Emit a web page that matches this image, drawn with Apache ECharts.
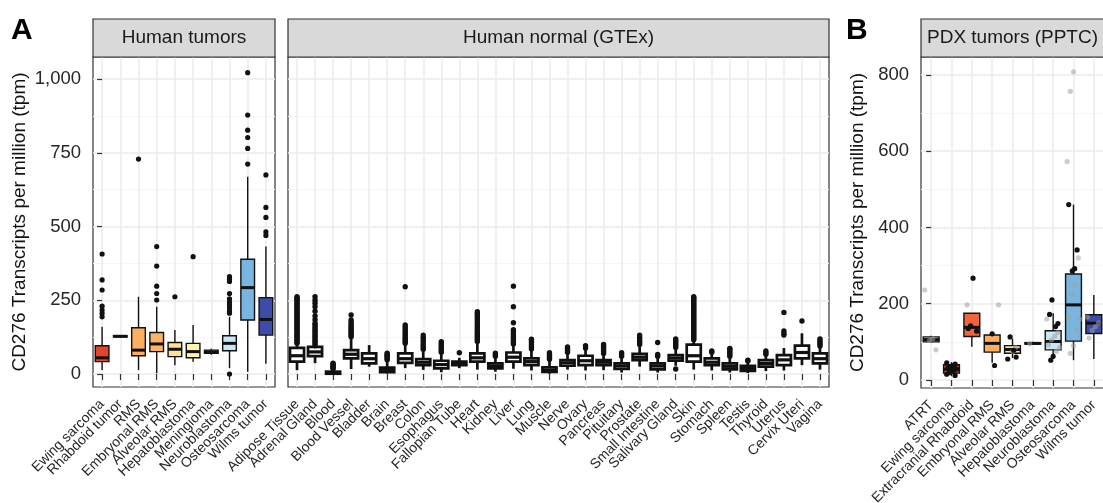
<!DOCTYPE html>
<html>
<head>
<meta charset="utf-8">
<script src="https://cdn.jsdelivr.net/npm/echarts@6/dist/echarts.min.js"></script>
<style>html,body{margin:0;padding:0;background:#fff;}#c{width:1103px;height:503px;}</style>
</head>
<body>
<div id="c"></div>
<script>
// ---------------- DATA ----------------
const yTitle = 'CD276 Transcripts per million (tpm)';
const stripLabels = ['Human tumors', 'Human normal (GTEx)', 'PDX tumors (PPTC)'];
const panelLetters = ['A', 'B'];

const yTicksA = [0, 250, 500, 750, 1000];
const yMinorA = [125, 375, 625, 875];
const yTicksB = [0, 200, 400, 600, 800];
const yMinorB = [100, 300, 500, 700];

const tumorCats = ['Ewing sarcoma', 'Rhabdoid tumor', 'RMS', 'Embryonal RMS', 'Alveolar RMS',
  'Hepatoblastoma', 'Meningioma', 'Neuroblastoma', 'Osteosarcoma', 'Wilms tumor'];
// [lower whisker, Q1, median, Q3, upper whisker]
const tumorStats = [
  [14, 42, 55, 96, 160],
  [124, 126, 128, 130, 132],
  [14, 62, 81, 157, 262],
  [3, 76, 102, 141, 228],
  [30, 59, 84, 107, 149],
  [42, 55, 76, 104, 166],
  [65, 70, 75, 81, 86],
  [20, 79, 104, 130, 194],
  [8, 183, 293, 389, 669],
  [35, 132, 185, 259, 432]
];
const tumorOutliers = [
  [407, 319, 285, 230, 217, 206, 194],
  [],
  [729],
  [432, 366, 298, 273, 251],
  [262],
  [398],
  [],
  [330, 322, 314, 273, 255, 245, 235, 225, 214, 206, 0],
  [1022, 878, 827, 802, 765, 712],
  [675, 565, 531, 482, 470]
];

const gtexCats = ['Adipose Tissue', 'Adrenal Gland', 'Blood', 'Blood Vessel', 'Bladder', 'Brain', 'Breast',
  'Colon', 'Esophagus', 'Fallopian Tube', 'Heart', 'Kidney', 'Liver', 'Lung', 'Muscle', 'Nerve', 'Ovary',
  'Pancreas', 'Pituitary', 'Prostate', 'Small Intestine', 'Salivary Gland', 'Skin', 'Stomach', 'Spleen',
  'Testis', 'Thyroid', 'Uterus', 'Cervix Uteri', 'Vagina'];
const gtexStats = [
  [13, 42, 62, 89, 100], [37, 61, 75, 92, 94], [0, 1, 3, 8, 15], [17, 53, 67, 81, 122],
  [25, 36, 52, 70, 98], [2, 6, 12, 22, 45], [20, 38, 52, 70, 100], [14, 30, 40, 51, 80],
  [6, 19, 32, 45, 70], [20, 30, 35, 42, 55], [15, 42, 55, 70, 105], [8, 19, 27, 36, 55],
  [18, 42, 57, 73, 98], [12, 30, 42, 53, 80], [1, 7, 14, 23, 45], [15, 28, 38, 47, 70],
  [12, 30, 45, 62, 82], [13, 30, 40, 47, 65], [5, 17, 27, 36, 55], [25, 47, 57, 68, 95],
  [5, 16, 27, 36, 55], [28, 45, 54, 64, 85], [15, 42, 62, 100, 112], [12, 30, 40, 53, 70],
  [5, 16, 26, 36, 55], [3, 11, 19, 28, 40], [10, 25, 36, 47, 62], [12, 30, 48, 64, 88],
  [30, 53, 73, 96, 138], [15, 36, 52, 70, 90]
];
const gtexOutliers = [
  [104, 109, 113, 118, 122, 127, 131, 136, 140, 145, 150, 154, 159, 163, 168, 172, 177, 181, 186, 190, 195, 199, 204, 208, 213, 217, 222, 227, 231, 236, 240, 245, 250, 254, 258, 262],
  [96, 102, 108, 114, 120, 126, 131, 137, 143, 148, 154, 160, 166, 172, 184, 197, 213, 228, 240, 250, 262],
  [18, 21, 24, 27, 30, 33, 37],
  [126, 131, 136, 141, 147, 152, 158, 164, 170, 176, 183, 200],
  [],
  [48, 52, 56, 60, 64, 68, 71],
  [104, 109, 114, 119, 124, 130, 136, 142, 148, 154, 160, 166, 296],
  [84, 90, 96, 103, 110, 117, 124, 132],
  [74, 80, 86, 92, 98, 104, 110],
  [72],
  [110, 115, 120, 125, 130, 135, 140, 146, 152, 158, 164, 170, 176, 182, 188, 194, 200, 206, 211],
  [60, 66, 71],
  [102, 108, 114, 120, 126, 132, 138, 144, 150, 174, 228, 298],
  [85, 92, 99, 106, 112, 118],
  [50, 56, 61, 66, 72],
  [74, 80, 86, 92],
  [88, 96],
  [70, 76, 82, 88, 94, 100],
  [60, 66, 72],
  [100, 106, 112, 118, 125, 132],
  [60, 66, 107],
  [17, 90, 96, 102, 108, 114, 119],
  [116, 120, 125, 129, 134, 138, 143, 147, 152, 156, 161, 165, 170, 174, 179, 183, 188, 192, 197, 201, 206, 210, 215, 219, 224, 228, 233, 237, 242, 246, 251, 255, 259, 262],
  [74, 78],
  [60, 66, 72, 78, 84, 87],
  [44, 47],
  [67, 72, 78],
  [132, 138, 146, 209],
  [180],
  [95, 101, 107, 113, 119]
];

const pdxCats = ['ATRT', 'Ewing sarcoma', 'Extracranial Rhabdoid', 'Embryonal RMS', 'Alveolar RMS',
  'Hepatoblastoma', 'Neuroblastoma', 'Osteosarcoma', 'Wilms tumor'];
const pdxStats = [
  [98, 100, 106, 113, 116],
  [10, 18, 28, 40, 47],
  [87, 114, 138, 175, 176],
  [45, 73, 96, 118, 122],
  [58, 70, 80, 90, 108],
  [92, 94, 96, 98, 100],
  [55, 79, 101, 129, 175],
  [52, 102, 197, 278, 460],
  [55, 122, 149, 171, 223]
];
const pdxDarkPoints = [
  [],
  [45, 42, 38, 35, 32, 29, 26, 22, 19, 15, 12],
  [267, 142, 135, 128],
  [38, 121],
  [113, 55, 60, 78],
  [],
  [210, 172, 148, 140, 62, 52],
  [460, 341, 292, 286],
  []
];
const pdxGreyPoints = [
  [236, 79, 108, 104],
  [],
  [197],
  [197],
  [85, 75],
  [95],
  [160, 125, 115, 105, 92, 85, 75],
  [808, 757, 573, 320, 250, 225, 165, 160, 130, 90, 70],
  [165, 150, 140, 130, 110]
];

// ---------------- STYLE ----------------
const FONT = "'Liberation Sans', Arial, Helvetica, sans-serif";
const tumorColors = ['#e4432d', '#f46d43', '#fdae61', '#fdb365', '#fee090', '#fff3b0', '#d9d9d9', '#c9e7f3', '#79b5df', '#3f4ba8'];
const gtexColors = gtexCats.map(() => '#ffffff');
const pdxColors = ['#d9d9d9', '#e4432d', '#f0643c', '#fdae61', '#fee090', '#f0f0f0', '#c9e7f3', '#79b5df', '#3f4ba8'];

const GRID_TOP = 57;
const panels = [
  { left: 93, width: 182, height: 330 },
  { left: 288, width: 541, height: 330 },
  { left: 921, width: 183, height: 331 }
];

function fmt(v) { return String(v).replace(/\B(?=(\d{3})+(?!\d))/g, ','); }
function idx(n) { return Array.from({ length: n }, (_, i) => i); }

function boxRenderer(colors, frac, lw, mlw) {
  return function (params, api) {
    const i = api.value(0);
    const pLo = api.coord([i, api.value(1)]);
    const pQ1 = api.coord([i, api.value(2)]);
    const pMd = api.coord([i, api.value(3)]);
    const pQ3 = api.coord([i, api.value(4)]);
    const pHi = api.coord([i, api.value(5)]);
    const band = api.size([1, 0])[0];
    const w = band * frac;
    const x = pMd[0];
    const st = { stroke: '#111', lineWidth: lw };
    return {
      type: 'group',
      children: [
        { type: 'line', shape: { x1: x, y1: pLo[1], x2: x, y2: pQ1[1] }, style: st },
        { type: 'line', shape: { x1: x, y1: pQ3[1], x2: x, y2: pHi[1] }, style: st },
        { type: 'rect', shape: { x: x - w / 2, y: pQ3[1], width: w, height: pQ1[1] - pQ3[1] },
          style: { fill: colors[params.dataIndex], stroke: '#111', lineWidth: lw } },
        { type: 'line', shape: { x1: x - w / 2, y1: pMd[1], x2: x + w / 2, y2: pMd[1] },
          style: { stroke: '#111', lineWidth: mlw } }
      ]
    };
  };
}
function pointRenderer(jit, r, fill) {
  return function (params, api) {
    const p = api.coord([api.value(0), api.value(1)]);
    const dx = jit ? (((params.dataIndex * 7) % 9) - 4) * jit : 0;
    return { type: 'circle', shape: { cx: p[0] + dx, cy: p[1], r: r }, style: { fill: fill } };
  };
}
function flatPoints(lists) {
  const out = [];
  lists.forEach((vals, i) => vals.forEach(v => out.push([i, v])));
  return out;
}

const cats = [tumorCats, gtexCats, pdxCats];
const xAxes = [];
cats.forEach((c, g) => {
  xAxes.push({
    type: 'category', gridIndex: g, data: c, boundaryGap: true, position: 'bottom',
    axisLine: { show: false },
    axisTick: { show: true, alignWithLabel: true, interval: 0, length: 6, lineStyle: { color: '#333', width: 1.2 } },
    axisLabel: { interval: 0, rotate: 45, fontSize: 14, color: '#262626', margin: 15, fontFamily: FONT },
    splitLine: { show: false }
  });
  xAxes.push({
    type: 'value', gridIndex: g, min: -0.5, max: c.length - 0.5, position: 'top',
    axisLine: { show: false },
    axisTick: { show: false, customValues: idx(c.length) },
    axisLabel: { show: false },
    splitLine: { show: true, lineStyle: { color: '#ebebeb', width: 1.5 } }
  });
});

function yMain(g, min, max, ticks, showLabels, nameGap) {
  const ax = {
    type: 'value', gridIndex: g, min: min, max: max, position: 'left',
    axisLine: { show: false },
    axisTick: { show: showLabels, length: 5, customValues: ticks, lineStyle: { color: '#333', width: 1.2 } },
    axisLabel: { show: showLabels, customValues: ticks, fontSize: 18.5, color: '#262626', margin: 12, formatter: fmt, fontFamily: FONT },
    splitLine: { show: true, lineStyle: { color: '#ebebeb', width: 1.5 } }
  };
  if (showLabels) {
    ax.name = yTitle;
    ax.nameLocation = 'middle';
    ax.nameRotate = 90;
    ax.nameGap = nameGap;
    ax.nameMoveOverlap = false;
    ax.nameTextStyle = { fontSize: 19, color: '#111', fontFamily: FONT };
  }
  return ax;
}
function yMinor(g, min, max, ticks) {
  return {
    type: 'value', gridIndex: g, min: min, max: max, position: 'right',
    axisLine: { show: false },
    axisTick: { show: false, customValues: ticks },
    axisLabel: { show: false },
    splitLine: { show: true, lineStyle: { color: '#f5f5f5', width: 1 } }
  };
}
const yAxes = [
  yMain(0, -44, 1075, yTicksA, true, 64), yMinor(0, -44, 1075, yMinorA),
  yMain(1, -44, 1075, yTicksA, false, 0), yMinor(1, -44, 1075, yMinorA),
  yMain(2, -21, 847, yTicksB, true, 54), yMinor(2, -21, 847, yMinorB)
];

const series = [];
function addBoxes(g, stats, colors, frac, lw, mlw) {
  series.push({
    type: 'custom', xAxisIndex: 2 * g, yAxisIndex: 2 * g, z: 3,
    renderItem: boxRenderer(colors, frac, lw, mlw),
    encode: { x: 0, y: [1, 2, 3, 4, 5] },
    data: stats.map((s, i) => [i].concat(s))
  });
}
function addPoints(g, lists, jit, r, fill, z) {
  series.push({
    type: 'custom', xAxisIndex: 2 * g, yAxisIndex: 2 * g, z: z,
    renderItem: pointRenderer(jit, r, fill),
    encode: { x: 0, y: 1 },
    data: flatPoints(lists)
  });
}
addBoxes(0, tumorStats, tumorColors, 0.75, 1.4, 3);
addPoints(0, tumorOutliers, 0, 2.6, '#111', 4);
addBoxes(1, gtexStats, gtexColors, 0.78, 2.7, 3.2);
addPoints(1, gtexOutliers, 0, 2.7, '#111', 4);
addBoxes(2, pdxStats, pdxColors, 0.78, 1.4, 3);
addPoints(2, pdxGreyPoints, 1.6, 2.6, 'rgba(160,160,160,0.55)', 4);
addPoints(2, pdxDarkPoints, 1.2, 2.6, '#111', 5);

const graphic = [];
panels.forEach((p, g) => {
  graphic.push({ type: 'rect', z: 10, shape: { x: p.left, y: 19, width: p.width, height: GRID_TOP - 19 },
    style: { fill: '#d9d9d9', stroke: '#333', lineWidth: 1.2 } });
  graphic.push({ type: 'text', z: 11, x: p.left + p.width / 2, y: 38,
    style: { text: stripLabels[g], font: '19px ' + FONT, fill: '#1a1a1a', align: 'center', verticalAlign: 'middle' } });
});
graphic.push({ type: 'text', z: 11, x: 11, y: 31, style: { text: panelLetters[0], font: 'bold 30px ' + FONT, fill: '#000', align: 'left', verticalAlign: 'middle' } });
graphic.push({ type: 'text', z: 11, x: 846, y: 31, style: { text: panelLetters[1], font: 'bold 30px ' + FONT, fill: '#000', align: 'left', verticalAlign: 'middle' } });

const option = {
  animation: false,
  backgroundColor: '#ffffff',
  textStyle: { fontFamily: FONT },
  grid: panels.map(p => ({
    left: p.left, top: GRID_TOP, width: p.width, height: p.height,
    show: true, backgroundColor: '#ffffff', borderColor: '#333', borderWidth: 1.2,
    containLabel: false, outerBoundsMode: 'none'
  })),
  xAxis: xAxes,
  yAxis: yAxes,
  graphic: graphic,
  series: series
};

const chart = echarts.init(document.getElementById('c'), null, { renderer: 'canvas' });
chart.setOption(option);
</script>
</body>
</html>
